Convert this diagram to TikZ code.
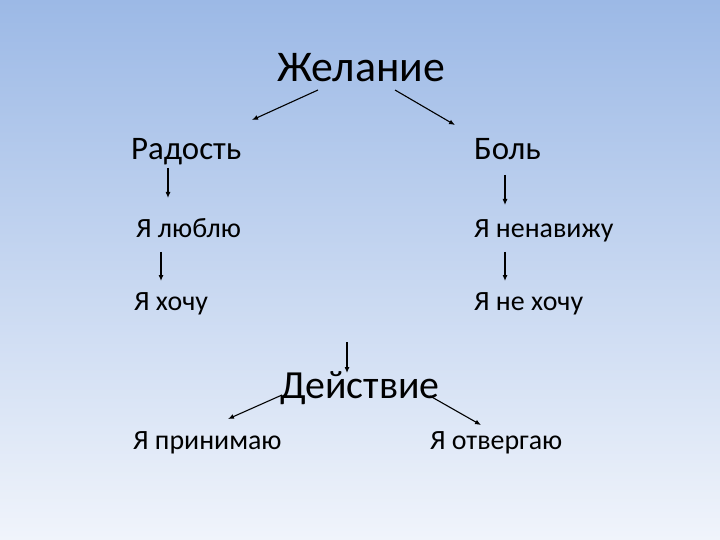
\documentclass[tikz,border=0pt]{standalone}
\usepackage{fontspec}
\setmainfont{Carlito}
\usetikzlibrary{arrows.meta}
\definecolor{bgtop}{RGB}{156,185,230}
\definecolor{bgbot}{RGB}{240,244,251}
\begin{document}
\begin{tikzpicture}[x=1bp,y=-1bp,
  lbl/.style={anchor=base west,inner sep=0pt,font=\fontsize{28}{30}\selectfont},
  mid/.style={anchor=base west,inner sep=0pt,font=\fontsize{33}{36}\selectfont},
  big/.style={anchor=base west,inner sep=0pt,font=\fontsize{40}{44}\selectfont},
  arr/.style={draw=black,line width=1.1bp,-{Latex[length=6bp,width=5bp]}}]
\shade[top color=bgtop,bottom color=bgbot] (0,0) rectangle (720,540);
\useasboundingbox (0,0) rectangle (720,540);
\node[big,font=\fontsize{44}{48}\selectfont] (zh) at (277,82) {Желание};
\node[mid] (rad) at (131,160) {Радость};
\node[mid] (bol) at (474,160) {Боль};
\node[lbl] (lub) at (136,238) {Я люблю};
\node[lbl] (nen) at (474,238) {Я ненавижу};
\node[lbl] (hoch) at (134,310) {Я хочу};
\node[lbl] (neh) at (474,310) {Я не хочу};
\node[big] (dey) at (280,398) {Действие};
\node[lbl] (pri) at (133,449) {Я принимаю};
\node[lbl] (otv) at (430,449) {Я отвергаю};
\coordinate (a1s) at (318,90); \coordinate (a1e) at (252,120);
\coordinate (a2s) at (395,90); \coordinate (a2e) at (455,125);
\coordinate (a3s) at (168,168); \coordinate (a3e) at (168,198);
\coordinate (a4s) at (505,175); \coordinate (a4e) at (505,205);
\coordinate (a5s) at (161,252); \coordinate (a5e) at (161,281);
\coordinate (a6s) at (505,252); \coordinate (a6e) at (505,281);
\coordinate (a7s) at (347,342); \coordinate (a7e) at (347,373);
\coordinate (a8s) at (282,395); \coordinate (a8e) at (228,419);
\coordinate (a9s) at (430,396); \coordinate (a9e) at (481,425);
\draw[arr] (a1s) -- (a1e);
\draw[arr] (a2s) -- (a2e);
\draw[arr] (a3s) -- (a3e);
\draw[arr] (a4s) -- (a4e);
\draw[arr] (a5s) -- (a5e);
\draw[arr] (a6s) -- (a6e);
\draw[arr] (a7s) -- (a7e);
\draw[arr] (a8s) -- (a8e);
\draw[arr] (a9s) -- (a9e);
\end{tikzpicture}
\end{document}
